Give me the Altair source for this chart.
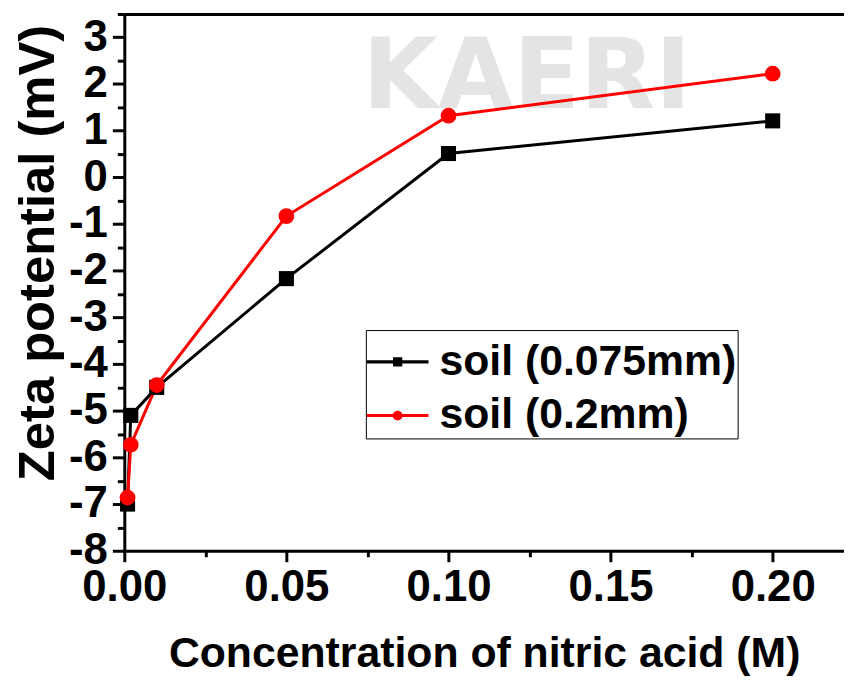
import altair as alt
import pandas as pd

# ---- data ----
conc = [0.001, 0.002, 0.01, 0.05, 0.10, 0.20]
zeta_soil_075 = [-7.0, -5.1, -4.5, -2.17, 0.51, 1.21]
zeta_soil_02 = [-6.86, -5.73, -4.45, -0.83, 1.32, 2.22]
series_names = ["soil (0.075mm)", "soil (0.2mm)"]
series_colors = ["#000000", "#ff0000"]

x_ticks = [0.0, 0.025, 0.05, 0.075, 0.10, 0.125, 0.15, 0.175, 0.20]
y_ticks = [-8, -7.5, -7, -6.5, -6, -5.5, -5, -4.5, -4, -3.5, -3, -2.5, -2, -1.5,
           -1, -0.5, 0, 0.5, 1, 1.5, 2, 2.5, 3, 3.5]
x_domain = [0.0, 0.222]
y_domain = [-8, 3.5]

df = pd.DataFrame({
    "conc": conc + conc,
    "zeta": zeta_soil_075 + zeta_soil_02,
    "series": [series_names[0]] * len(conc) + [series_names[1]] * len(conc),
})

FONT = "Liberation Sans"

# custom legend symbols: line with a marker in the middle
legend_paths = [
    "M-1,-0.05 H-0.15 V0.05 H-1 Z M0.15,-0.05 H1 V0.05 H0.15 Z M-0.15,-0.15 H0.15 V0.15 H-0.15 Z",
    "M-1,-0.05 H-0.15 V0.05 H-1 Z M0.15,-0.05 H1 V0.05 H0.15 Z "
    "M0.16,0 A0.16,0.16 0 1,1 -0.16,0 A0.16,0.16 0 1,1 0.16,0 Z",
]

x_scale = alt.Scale(domain=x_domain, nice=False, zero=False)
y_scale = alt.Scale(domain=y_domain, nice=False, zero=False)

x_bottom = alt.X(
    "conc:Q", scale=x_scale,
    axis=alt.Axis(
        values=x_ticks,
        labelExpr="round(datum.value*1000) % 50 == 0 ? format(datum.value, '.2f') : ''",
        tickSize={"condition": {"test": "round(datum.value*1000) % 50 != 0", "value": 6}, "value": 11},
        labelPadding=4,
        labelFlush=False,
        title="Concentration of nitric acid (M)",
        titleFontSize=43,
        titleY=116,
        titleBaseline="alphabetic",
    ),
)
x_none = alt.X("conc:Q", scale=x_scale, axis=None)
x_top = alt.X("conc:Q", scale=x_scale,
              axis=alt.Axis(orient="top", labels=False, ticks=False, title=None))

y_enc = alt.Y(
    "zeta:Q", scale=y_scale,
    axis=alt.Axis(
        values=y_ticks,
        labelExpr="datum.value % 1 == 0 ? '' + datum.value : ''",
        tickSize={"condition": {"test": "datum.value % 1 != 0", "value": 7}, "value": 12},
        labelPadding=5,
        labelFlush=False,
        title="Zeta potential (mV)",
        titleFontSize=51,
        titleAngle=270,
        titleAlign="center",
        titleBaseline="alphabetic",
        titleX=-71,
        titleY=240,
    ),
)

base = alt.Chart(df)

watermark = alt.Chart(pd.DataFrame({"t": ["KAERI"]})).mark_text(
    font="DejaVu Sans", fontWeight="bold", fontSize=98, color="#e4e4e4",
    align="center", baseline="middle",
).encode(text="t:N", x=alt.value(405), y=alt.value(66))

line_black = base.transform_filter(alt.datum.series == series_names[0]).mark_line(
    color=series_colors[0], strokeWidth=3).encode(x=x_bottom, y=y_enc)
line_red = base.transform_filter(alt.datum.series == series_names[1]).mark_line(
    color=series_colors[1], strokeWidth=3).encode(x=x_none, y=y_enc)
pts_black = base.transform_filter(alt.datum.series == series_names[0]).mark_point(
    shape="square", filled=True, size=230, opacity=1, color=series_colors[0]).encode(x=x_none, y=y_enc)
pts_red = base.transform_filter(alt.datum.series == series_names[1]).mark_point(
    shape="circle", filled=True, size=250, opacity=1, color=series_colors[1]).encode(x=x_none, y=y_enc)

legend_props = dict(
    orient="none", legendX=243, legendY=318, title=None,
    labelFont=FONT, labelFontSize=43, labelFontWeight="bold", labelColor="black",
    labelOffset=11, symbolSize=3844, symbolStrokeWidth=0, symbolOpacity=1,
    strokeColor="black", fillColor="white", padding=1, rowPadding=1,
    cornerRadius=0, labelLimit=0,
)

legend_layer = base.transform_filter("false").mark_point(filled=True, opacity=1).encode(
    x=x_top,
    y=y_enc,
    color=alt.Color("series:N", scale=alt.Scale(domain=series_names, range=series_colors),
                    legend=alt.Legend(**legend_props)),
    shape=alt.Shape("series:N", scale=alt.Scale(domain=series_names, range=legend_paths),
                    legend=alt.Legend(**legend_props)),
)

chart = alt.layer(
    watermark, line_black, line_red, pts_black, pts_red, legend_layer
).resolve_axis(x="independent").properties(
    width=724, height=540,
    padding={"left": 117, "top": 4, "right": 0, "bottom": 125},
    autosize=alt.AutoSizeParams(type="none"),
).configure_view(stroke=None).configure_axis(
    domainColor="black", domainWidth=3, tickColor="black", tickWidth=3,
    labelFont=FONT, labelFontSize=44, labelFontWeight="bold", labelColor="black",
    titleFont=FONT, titleFontWeight="bold", titleColor="black", grid=False,
)

chart.save("out.html", embed_options={"renderer": "svg", "actions": False})
